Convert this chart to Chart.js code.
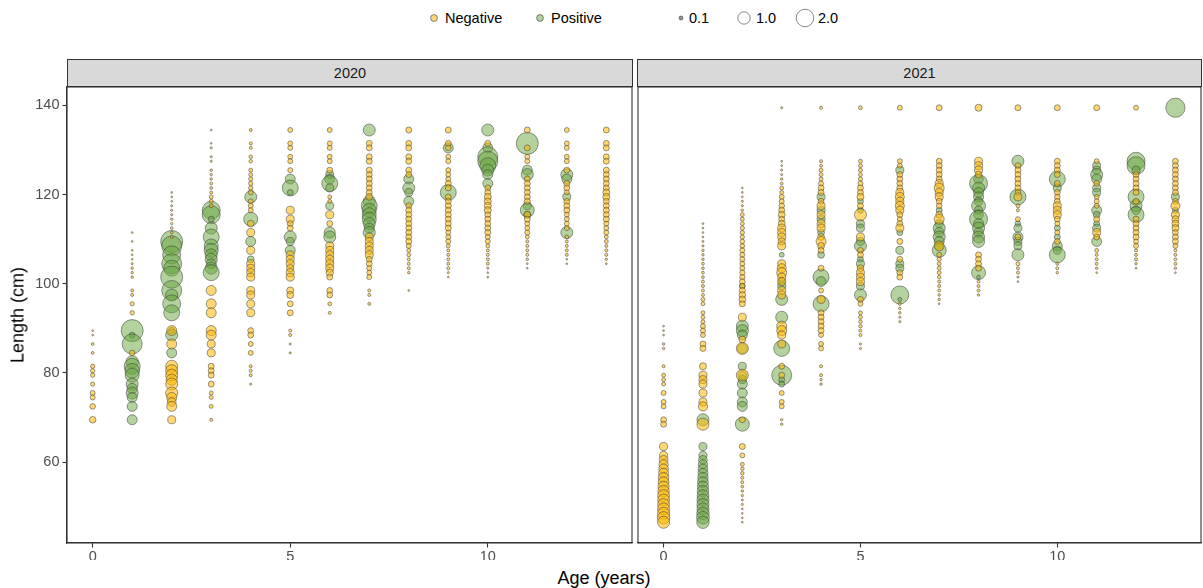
<!DOCTYPE html>
<html><head><meta charset="utf-8">
<script src="https://cdn.jsdelivr.net/npm/chart.js@4/dist/chart.umd.min.js"></script>
<style>
html,body{margin:0;padding:0;background:#fff;}
body{width:1203px;height:588px;position:relative;overflow:hidden;font-family:"Liberation Sans",Arial,sans-serif;}
.box{position:absolute;}
.box canvas{display:block;}
.strip{position:absolute;top:59px;height:28px;box-sizing:border-box;border:1px solid #333;background:#D9D9D9;color:#1A1A1A;font-size:14.5px;text-align:center;line-height:26px;}
.title{position:absolute;font-size:18px;color:#000;white-space:nowrap;}
</style></head>
<body>
<svg id="legend" width="1203" height="40" style="position:absolute;left:0;top:0"></svg>
<div class="strip" id="s1" style="left:67px;width:566px;"></div>
<div class="strip" id="s2" style="left:637px;width:565px;"></div>
<div class="box" style="left:0;top:80px;width:633px;height:480px;"><canvas id="c1"></canvas></div>
<div class="box" style="left:630px;top:80px;width:573px;height:480px;"><canvas id="c2"></canvas></div>
<div class="title" id="ytitle" style="left:18px;top:315px;transform:translate(-50%,-50%) rotate(-90deg);"></div>
<div class="title" id="xtitle" style="left:604px;top:578px;transform:translate(-50%,-50%);"></div>
<script>
// ---------- data ----------
const panels = ['2020', '2021'];
const ages = [0,1,2,3,4,5,6,7,8,9,10,11,12,13];
const xTicks = [0, 5, 10];
const yTicks = [60, 80, 100, 120, 140];
const statusLabels = ['Negative', 'Positive'];
const sizeBreaks = [0.1, 1.0, 2.0];
const xTitle = 'Age (years)';
const yTitle = 'Length (cm)';

// each entry indexed by age: [length (cm), value]
const neg2020 = [
 [[89.5,.02],[88.5,.02],[86.5,.05],[84.5,.05],[81.5,.12],[80.5,.12],[79.5,.12],[77.5,.12],[75.5,.16],[74.5,.16],[72.5,.2],[69.5,.28]],
 [[111.5,.02],[109.5,.02],[107.5,.02],[106.5,.02],[105.5,.02],[104.5,.03],[103.5,.04],[102.5,.04],[101.5,.04],[98.5,.06],[97.5,.06],[95.5,.12],[93.5,.12],[84.5,.2]],
 [[120.5,.02],[119.5,.02],[118.5,.02],[117.5,.03],[116.5,.03],[115.5,.03],[114.5,.04],[113.5,.04],[112.5,.05],[111.5,.05],[110.5,.06],[89.5,.65],[86.5,.65],[81.5,.94],[80.5,.94],[79.5,.94],[78.5,.8],[77.5,.94],[75.5,.94],[74.5,.65],[73.5,.5],[72.5,.65],[69.5,.42]],
 [[134.5,.02],[131.5,.02],[130.5,.03],[128.5,.03],[127.5,.03],[125.5,.04],[124.5,.04],[123.5,.04],[122.5,.05],[121.5,.05],[120.5,.06],[119.5,.1],[118.5,.1],[117.5,.1],[98.5,.65],[95.5,.65],[93.5,.65],[89.5,.65],[88.5,.65],[86.5,.42],[84.5,.42],[81.5,.23],[80.5,.23],[79.5,.23],[77.5,.23],[75.5,.1],[74.5,.1],[72.5,.1],[69.5,.06]],
 [[134.5,.06],[131.5,.06],[130.5,.06],[128.5,.08],[127.5,.08],[125.5,.1],[124.5,.1],[123.5,.12],[122.5,.12],[121.5,.12],[120.5,.16],[118.5,.16],[117.5,.16],[116.5,.16],[113.5,.3],[111.5,.42],[107.5,.42],[104.5,.42],[103.5,.42],[102.5,.42],[101.5,.42],[98.5,.42],[97.5,.42],[95.5,.42],[93.5,.42],[89.5,.23],[88.5,.23],[86.5,.16],[84.5,.16],[81.5,.06],[80.5,.06],[79.5,.06],[77.5,.03]],
 [[134.5,.16],[131.5,.16],[130.5,.16],[128.5,.16],[127.5,.16],[125.5,.16],[116.5,.42],[114.5,.42],[113.5,.23],[112.5,.23],[106.5,.42],[105.5,.42],[104.5,.42],[103.5,.35],[102.5,.42],[101.5,.42],[98.5,.32],[97.5,.32],[95.5,.23],[93.5,.23],[89.5,.06],[88.5,.06],[86.5,.03],[84.5,.03]],
 [[134.5,.16],[131.5,.16],[130.5,.16],[128.5,.16],[127.5,.16],[125.5,.23],[119.5,.1],[118.5,.1],[115.5,.42],[113.5,.23],[108.5,.42],[107.5,.42],[106.5,.42],[105.5,.42],[104.5,.42],[103.5,.42],[102.5,.35],[101.5,.23],[98.5,.23],[97.5,.23],[95.5,.1],[93.5,.06]],
 [[131.5,.23],[130.5,.23],[128.5,.23],[127.5,.23],[125.5,.23],[124.5,.23],[123.5,.23],[122.5,.23],[121.5,.23],[120.5,.23],[119.5,.3],[110.5,.42],[109.5,.42],[108.5,.42],[107.5,.42],[106.5,.42],[105.5,.23],[104.5,.23],[103.5,.16],[102.5,.16],[101.5,.16],[98.5,.06],[97.5,.06],[95.5,.06]],
 [[134.5,.23],[131.5,.23],[130.5,.23],[128.5,.23],[127.5,.23],[125.5,.23],[124.5,.23],[117.5,.23],[116.5,.23],[115.5,.23],[114.5,.23],[113.5,.23],[112.5,.23],[111.5,.23],[110.5,.23],[109.5,.23],[108.5,.16],[107.5,.1],[106.5,.1],[105.5,.06],[104.5,.06],[103.5,.06],[102.5,.04],[98.5,.02]],
 [[134.5,.23],[131.5,.23],[130.5,.2],[128.5,.16],[127.5,.16],[125.5,.16],[124.5,.16],[123.5,.16],[122.5,.23],[121.5,.23],[119.5,.23],[118.5,.23],[117.5,.23],[116.5,.23],[115.5,.23],[114.5,.23],[113.5,.23],[112.5,.23],[111.5,.16],[110.5,.16],[109.5,.16],[108.5,.1],[107.5,.06],[106.5,.06],[105.5,.06],[104.5,.06],[103.5,.06],[102.5,.03],[101.5,.02]],
 [[131.5,.23],[121.5,.23],[120.5,.23],[119.5,.32],[118.5,.32],[117.5,.32],[116.5,.32],[115.5,.23],[114.5,.23],[113.5,.23],[112.5,.23],[111.5,.23],[110.5,.16],[109.5,.16],[108.5,.1],[107.5,.06],[106.5,.06],[105.5,.06],[104.5,.06],[103.5,.03],[102.5,.02],[101.5,.02]],
 [[134.5,.23],[130.5,.23],[128.5,.16],[127.5,.16],[123.5,.23],[122.5,.23],[121.5,.23],[120.5,.23],[119.5,.23],[118.5,.23],[115.5,.3],[114.5,.23],[113.5,.16],[112.5,.16],[111.5,.16],[110.5,.1],[109.5,.06],[108.5,.06],[107.5,.06],[106.5,.06],[105.5,.04],[104.5,.02],[103.5,.02]],
 [[134.5,.16],[131.5,.16],[130.5,.16],[128.5,.16],[127.5,.16],[125.5,.23],[122.5,.23],[121.5,.23],[120.5,.16],[118.5,.23],[117.5,.23],[116.5,.23],[115.5,.16],[114.5,.16],[113.5,.16],[112.5,.16],[110.5,.1],[109.5,.06],[108.5,.06],[107.5,.06],[106.5,.06],[105.5,.02],[104.5,.02]],
 [[134.5,.23],[131.5,.23],[130.5,.23],[128.5,.23],[127.5,.23],[125.5,.23],[124.5,.23],[123.5,.23],[122.5,.23],[121.5,.23],[120.5,.32],[119.5,.32],[118.5,.23],[117.5,.23],[116.5,.23],[115.5,.23],[114.5,.23],[113.5,.16],[112.5,.16],[111.5,.16],[110.5,.1],[109.5,.1],[108.5,.06],[107.5,.06],[106.5,.06],[105.5,.04],[104.5,.02]]
];
const pos2020 = [
 [],
 [[89.5,3.15],[88.5,.2],[86.5,2.6],[82.5,1.0],[81.5,1.66],[80.5,1.4],[79.5,1.27],[77.5,.94],[76.5,.7],[75.5,.94],[74.5,.65],[72.5,.65],[69.5,.65]],
 [[109.5,3.15],[108.5,2.6],[106.5,2.1],[104.5,2.6],[103.5,1.66],[101.5,3.15],[98.5,2.6],[97.5,.94],[95.5,2.1],[93.5,1.66],[89.5,.3],[88.5,.94],[84.5,.65]],
 [[116.5,2.1],[115.5,2.1],[114.5,.23],[112.5,.94],[110.5,1.66],[108.5,1.27],[107.5,1.27],[106.5,.94],[105.5,.94],[104.5,.65],[103.5,.94],[102.5,1.66]],
 [[119.5,.94],[114.5,1.27],[109.5,.65],[105.5,.3]],
 [[123.5,.65],[121.5,1.66],[120.5,.23],[110.5,.94],[109.5,.42],[107.5,.65]],
 [[124.5,.42],[123.5,.65],[122.5,1.66],[121.5,.42],[117.5,.42],[111.5,.8],[110.5,.94]],
 [[134.5,.94],[118.5,.94],[117.5,1.66],[116.5,1.27],[115.5,1.27],[114.5,1.27],[113.5,.94],[112.5,.65],[111.5,.94]],
 [[123.5,.65],[121.5,.94],[120.5,.42],[118.5,.65]],
 [[130.5,.65],[120.5,1.66]],
 [[134.5,.94],[130.5,.65],[128.5,2.6],[127.5,2.6],[126.5,1.66],[125.5,.94],[124.5,.65],[122.5,.65]],
 [[131.5,3.15],[125.5,.65],[124.5,.94],[117.5,.42],[116.5,1.27],[115.5,.3]],
 [[124.5,.94],[123.5,.65],[119.5,.42],[111.5,.94]],
 []
];
const neg2021 = [
 [[90.5,.02],[89.5,.02],[88.5,.02],[86.5,.04],[85.5,.04],[81.5,.06],[79.5,.1],[78.5,.1],[77.5,.1],[75.5,.16],[73.5,.16],[72.5,.16],[69.5,.23],[68.5,.23],[63.5,.42],[61.5,.45],[60.5,.5],[59.5,.55],[58.5,.6],[57.5,.65],[56.5,.7],[55.5,.75],[54.5,.8],[53.5,.85],[52.5,.9],[51.5,.9],[50.5,.9],[49.5,.94],[48.5,.94],[47.5,1.0],[46.5,.94]],
 [[113.5,.02],[112.5,.02],[111.5,.02],[110.5,.02],[109.5,.03],[108.5,.03],[107.5,.04],[106.5,.04],[105.5,.04],[104.5,.05],[103.5,.05],[102.5,.05],[101.5,.05],[100.5,.06],[99.5,.06],[98.5,.06],[97.5,.06],[96.5,.1],[95.5,.1],[93.5,.1],[92.5,.1],[91.5,.1],[90.5,.16],[89.5,.16],[88.5,.16],[86.5,.23],[85.5,.23],[81.5,.32],[79.5,.42],[78.5,.42],[77.5,.42],[75.5,.42],[73.5,.42],[72.5,.55],[68.5,.94]],
 [[121.5,.02],[120.5,.02],[119.5,.02],[118.5,.03],[117.5,.03],[116.5,.04],[115.5,.1],[114.5,.1],[113.5,.1],[112.5,.12],[111.5,.12],[110.5,.12],[109.5,.14],[108.5,.14],[107.5,.16],[106.5,.16],[105.5,.16],[104.5,.16],[103.5,.16],[102.5,.18],[101.5,.18],[100.5,.2],[99.5,.2],[98.5,.23],[97.5,.28],[96.5,.3],[95.5,.23],[92.5,.42],[87.5,.3],[85.5,.94],[79.5,.94],[69.5,.23],[63.5,.23],[61.5,.16],[59.5,.1],[58.5,.08],[57.5,.08],[56.5,.06],[55.5,.06],[54.5,.05],[53.5,.04],[52.5,.04],[51.5,.03],[50.5,.03],[49.5,.02],[48.5,.02],[47.5,.02],[46.5,.02]],
 [[139.5,.03],[127.5,.02],[126.5,.02],[125.5,.03],[124.5,.03],[123.5,.04],[122.5,.05],[121.5,.1],[120.5,.1],[119.5,.16],[118.5,.16],[117.5,.2],[116.5,.23],[115.5,.3],[114.5,.23],[113.5,.3],[112.5,.42],[111.5,.42],[110.5,.42],[109.5,.35],[108.5,.42],[104.5,.42],[103.5,.53],[102.5,.65],[101.5,.42],[100.5,.42],[98.5,.42],[97.5,.42],[90.5,.65],[89.5,.65],[88.5,.42],[86.5,.42],[81.5,.23],[79.5,.23],[75.5,.16],[73.5,.16],[72.5,.16],[69.5,.04],[68.5,.04]],
 [[139.5,.06],[127.5,.06],[126.5,.06],[125.5,.1],[124.5,.1],[123.5,.1],[122.5,.16],[121.5,.23],[120.5,.23],[118.5,.23],[117.5,.42],[115.5,.42],[113.5,.42],[112.5,.42],[110.5,.3],[109.5,.65],[108.5,.3],[107.5,.23],[103.5,.23],[98.5,.16],[96.5,.42],[93.5,.23],[92.5,.23],[91.5,.23],[90.5,.23],[89.5,.23],[88.5,.16],[86.5,.16],[85.5,.16],[81.5,.06],[79.5,.06],[78.5,.04],[77.5,.04]],
 [[139.5,.1],[127.5,.1],[126.5,.1],[125.5,.1],[124.5,.1],[123.5,.12],[122.5,.16],[121.5,.23],[120.5,.23],[119.5,.32],[117.5,.23],[115.5,.94],[110.5,.42],[107.5,.23],[106.5,.23],[103.5,.3],[102.5,.42],[101.5,.42],[100.5,.42],[96.5,.23],[95.5,.16],[93.5,.1],[92.5,.1],[91.5,.08],[90.5,.08],[89.5,.06],[88.5,.06],[86.5,.03],[85.5,.03]],
 [[139.5,.16],[127.5,.16],[126.5,.16],[124.5,.23],[123.5,.23],[122.5,.23],[121.5,.23],[120.5,.42],[119.5,.53],[118.5,.42],[117.5,.53],[116.5,.42],[115.5,.23],[114.5,.16],[113.5,.23],[112.5,.42],[109.5,.23],[105.5,.23],[102.5,.23],[101.5,.23],[95.5,.06],[94.5,.04],[93.5,.04],[92.5,.03],[91.5,.03]],
 [[139.5,.23],[127.5,.23],[126.5,.23],[125.5,.23],[124.5,.23],[123.5,.23],[122.5,.42],[121.5,.65],[120.5,.42],[119.5,.42],[118.5,.23],[117.5,.2],[115.5,.3],[114.5,.65],[108.5,.65],[106.5,.16],[105.5,.12],[104.5,.1],[103.5,.1],[102.5,.1],[101.5,.08],[100.5,.06],[99.5,.06],[98.5,.06],[97.5,.04],[96.5,.04],[95.5,.02]],
 [[139.5,.32],[127.5,.42],[126.5,.42],[125.5,.42],[124.5,.3],[106.5,.23],[105.5,.23],[104.5,.23],[103.5,.23],[100.5,.06],[99.5,.06],[98.5,.06],[97.5,.04]],
 [[139.5,.23],[126.5,.23],[125.5,.23],[124.5,.23],[123.5,.23],[122.5,.23],[121.5,.23],[120.5,.2],[119.5,.42],[117.5,.1],[116.5,.06],[114.5,.16],[110.5,.23],[104.5,.1],[103.5,.06],[102.5,.06],[101.5,.03],[100.5,.02]],
 [[139.5,.23],[127.5,.23],[126.5,.23],[125.5,.23],[124.5,.23],[122.5,.23],[120.5,.23],[119.5,.2],[118.5,.23],[117.5,.42],[116.5,.42],[115.5,.42],[114.5,.23],[113.5,.16],[111.5,.16],[109.5,.23],[104.5,.06],[103.5,.06],[102.5,.04]],
 [[139.5,.23],[127.5,.16],[122.5,.2],[119.5,.16],[118.5,.16],[117.5,.16],[114.5,.23],[111.5,.42],[110.5,.23],[107.5,.1],[106.5,.06],[105.5,.06],[104.5,.06],[103.5,.04],[102.5,.02]],
 [[139.5,.16],[124.5,.23],[123.5,.23],[122.5,.23],[121.5,.23],[120.5,.23],[118.5,.23],[114.5,.23],[113.5,.23],[112.5,.23],[111.5,.23],[110.5,.23],[109.5,.16],[108.5,.16],[107.5,.06],[106.5,.06],[105.5,.06],[104.5,.04],[103.5,.02]],
 [[127.5,.23],[126.5,.23],[125.5,.23],[124.5,.23],[123.5,.23],[122.5,.23],[121.5,.23],[120.5,.23],[118.5,.23],[117.5,.53],[115.5,.42],[114.5,.32],[113.5,.32],[112.5,.32],[111.5,.23],[110.5,.23],[109.5,.23],[108.5,.16],[107.5,.06],[106.5,.06],[105.5,.06],[104.5,.06],[103.5,.04],[102.5,.02]]
];
const pos2021 = [
 [],
 [[69.5,.94],[63.5,.42],[61.5,.45],[60.5,.5],[59.5,.55],[58.5,.6],[57.5,.65],[56.5,.7],[55.5,.75],[54.5,.8],[53.5,.85],[52.5,.9],[51.5,.94],[50.5,.94],[49.5,.94],[48.5,1.0],[47.5,1.05],[46.5,1.0]],
 [[99.5,.2],[90.5,.94],[89.5,.94],[88.5,.65],[85.5,.65],[81.5,.42],[79.5,.5],[78.5,.42],[77.5,.65],[75.5,.65],[73.5,.65],[72.5,.65],[68.5,1.27]],
 [[106.5,.16],[100.5,.3],[99.5,.42],[96.5,.94],[92.5,.94],[85.5,1.66],[79.5,2.6],[78.5,.23],[77.5,.23]],
 [[119.5,.42],[116.5,.42],[114.5,.42],[111.5,.3],[106.5,.3],[101.5,1.66],[100.5,.65],[95.5,1.66]],
 [[118.5,.23],[116.5,.23],[113.5,.42],[112.5,.42],[109.5,.42],[108.5,.94],[105.5,.23],[104.5,.42],[99.5,.42],[97.5,.94]],
 [[125.5,.42],[111.5,.23],[107.5,.42],[104.5,.42],[103.5,.42],[97.5,2.1],[96.5,.1]],
 [[116.5,.23],[113.5,.42],[112.5,.94],[111.5,.65],[110.5,.94],[109.5,.65],[108.5,.42],[107.5,1.27]],
 [[123.5,.6],[122.5,2.1],[121.5,.94],[120.5,.65],[119.5,.65],[118.5,.5],[117.5,1.27],[116.5,.42],[115.5,.6],[114.5,2.1],[113.5,.65],[112.5,.94],[111.5,.6],[110.5,.94],[109.5,.94],[102.5,1.27],[101.5,.1]],
 [[127.5,.94],[119.5,1.66],[113.5,.2],[112.5,.42],[110.5,.65],[109.5,.42],[108.5,.42],[106.5,.94]],
 [[123.5,1.66],[121.5,.42],[112.5,.23],[110.5,.23],[108.5,.65],[107.5,.42],[106.5,1.66]],
 [[126.5,.42],[125.5,.42],[124.5,.94],[123.5,.65],[121.5,.42],[120.5,.42],[116.5,.65],[115.5,.3],[113.5,.23],[112.5,.42],[109.5,.65]],
 [[127.5,2.1],[126.5,2.1],[125.5,.42],[119.5,1.66],[117.5,.94],[116.5,.5],[115.5,1.66]],
 [[139.5,2.4],[119.5,.42],[116.5,.23]]
];

// ---------- styles ----------
const FONT = '"Liberation Sans", Arial, sans-serif';
const NEG_FILL = 'rgba(255,184,0,0.55)';
const POS_FILL = 'rgba(104,166,62,0.5)';
const STROKE = 'rgba(60,60,60,0.75)';
const sizeOf = v => 6.2 * Math.sqrt(v);

function toPoints(cols) {
  const out = [];
  cols.forEach((col, i) => col.forEach(([L, v]) => out.push({x: ages[i], y: L, r: sizeOf(v)})));
  return out;
}

const panelBorder = {
  id: 'panelBorder',
  afterDraw(chart) {
    const {ctx, chartArea: a} = chart;
    ctx.save();
    ctx.strokeStyle = '#333';
    ctx.lineWidth = 1.1;
    ctx.strokeRect(a.left, a.top, a.right - a.left, a.bottom - a.top);
    ctx.restore();
  }
};

function zeroPad(s) { s.paddingTop = 0; s.paddingBottom = 0; s.paddingLeft = 0; s.paddingRight = 0; }

function makeChart(id, neg, pos, showY, padding) {
  return new Chart(document.getElementById(id), {
    type: 'bubble',
    data: {
      datasets: [
        {label: statusLabels[0], data: toPoints(neg), backgroundColor: NEG_FILL, borderColor: STROKE, borderWidth: 0.7},
        {label: statusLabels[1], data: toPoints(pos), backgroundColor: POS_FILL, borderColor: STROKE, borderWidth: 0.7}
      ]
    },
    options: {
      responsive: true, maintainAspectRatio: false, devicePixelRatio: 1,
      animation: false, events: [],
      layout: {padding: padding, autoPadding: false},
      plugins: {legend: {display: false}, tooltip: {enabled: false}},
      scales: {
        x: {
          type: 'linear', min: -0.65, max: 13.65,
          afterBuildTicks: s => { s.ticks = xTicks.map(v => ({value: v})); },
          afterFit: s => { s.height = 17; zeroPad(s); },
          ticks: {color: '#4D4D4D', font: {family: FONT, size: 14.5}, padding: 1, maxRotation: 0},
          grid: {display: true, drawOnChartArea: false, drawTicks: true, tickLength: 4.5, tickColor: '#333', tickWidth: 1.1},
          border: {display: true, color: '#333', width: 1.1}
        },
        y: {
          type: 'linear', min: 41.85, max: 144.15, display: showY,
          afterBuildTicks: s => { s.ticks = yTicks.map(v => ({value: v})); },
          afterFit: s => { s.width = showY ? 67 : 0; zeroPad(s); },
          ticks: {color: '#4D4D4D', font: {family: FONT, size: 14.5}, padding: 3},
          grid: {display: true, drawOnChartArea: false, drawTicks: true, tickLength: 4.5, tickColor: '#333', tickWidth: 1.1},
          border: {display: true, color: '#333', width: 1.1}
        }
      }
    },
    plugins: [panelBorder]
  });
}

makeChart('c1', neg2020, pos2020, true, {top: 7, right: 1, left: 0, bottom: 0});
makeChart('c2', neg2021, pos2021, false, {top: 7, right: 2, left: 8, bottom: 0});

document.getElementById('s1').textContent = panels[0];
document.getElementById('s2').textContent = panels[1];
document.getElementById('xtitle').textContent = xTitle;
document.getElementById('ytitle').textContent = yTitle;

// ---------- legend ----------
(function () {
  const svg = document.getElementById('legend');
  const NS = 'http://www.w3.org/2000/svg';
  const cy = 18;
  function circle(cx, r, fill) {
    const c = document.createElementNS(NS, 'circle');
    c.setAttribute('cx', cx); c.setAttribute('cy', cy); c.setAttribute('r', r);
    c.setAttribute('fill', fill); c.setAttribute('stroke', STROKE); c.setAttribute('stroke-width', 0.8);
    svg.appendChild(c);
  }
  function text(x, s) {
    const t = document.createElementNS(NS, 'text');
    t.setAttribute('x', x); t.setAttribute('y', cy + 5);
    t.setAttribute('font-family', FONT); t.setAttribute('font-size', '14.5'); t.setAttribute('fill', '#000');
    t.textContent = s;
    svg.appendChild(t);
  }
  circle(434, 3.4, NEG_FILL); text(445, statusLabels[0]);
  circle(540, 3.4, POS_FILL); text(551, statusLabels[1]);
  const sx = [681, 744, 805], tx = [689, 756, 818];
  sizeBreaks.forEach((b, i) => {
    circle(sx[i], sizeOf(b), i === 0 ? 'rgba(80,80,80,0.6)' : 'none');
    text(tx[i], b.toFixed(1));
  });
})();
</script>
</body></html>
